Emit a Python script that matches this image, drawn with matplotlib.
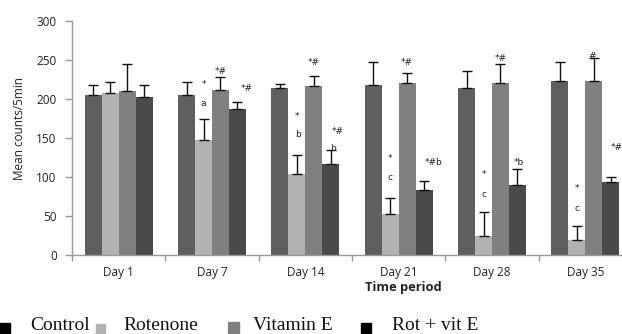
import matplotlib
matplotlib.use("Agg")
import matplotlib.pyplot as plt
import numpy as np
from matplotlib.patches import Rectangle

days = ["Day 1", "Day 7", "Day 14", "Day 21", "Day 28", "Day 35"]
series_names = ["Control", "Rotenone", "Vitamin E", "Rot + vit E"]
control = [205, 205, 214, 218, 214, 223]
rotenone = [208, 148, 104, 52, 25, 19]
vitamin_e = [210, 211, 217, 220, 221, 223]
rot_vit_e = [202, 187, 117, 83, 90, 94]
control_err = [13, 17, 5, 30, 22, 25]
rotenone_err = [14, 27, 24, 21, 30, 18]
vitamin_e_err = [35, 17, 13, 13, 24, 29]
rot_vit_e_err = [16, 9, 18, 12, 20, 6]
y_ticks = [0, 50, 100, 150, 200, 250, 300]

# annotations: (day index, series index, text, y value, x shift in bar widths)
annotations = [
    (1, 1, "*", 218, 0.0), (1, 1, "a", 194, 0.0),
    (1, 2, "*#", 235, 0.0), (1, 3, "*#", 214, 0.55),
    (2, 1, "*", 178, 0.0), (2, 1, "b", 154, 0.05),
    (2, 2, "*#", 247, 0.0), (2, 3, "*#", 158, 0.4), (2, 3, "b", 137, 0.15),
    (3, 1, "*", 124, 0.0), (3, 1, "c", 99, 0.0),
    (3, 2, "*#", 247, 0.0), (3, 3, "*#b", 119, 0.55),
    (4, 1, "*", 103, 0.0), (4, 1, "c", 78, 0.0),
    (4, 2, "*#", 252, 0.0), (4, 3, "*b", 118, 0.1),
    (5, 1, "*", 85, 0.0), (5, 1, "c", 60, 0.0),
    (5, 2, "#", 254, -0.1), (5, 3, "*#", 138, 0.35),
]

colors = ["#5f5f5f", "#b2b2b2", "#808080", "#4a4a4a"]
legend_colors = ["#000000", "#b2b2b2", "#808080", "#000000"]

W, H = 622, 334
fig = plt.figure(figsize=(W / 100, H / 100), dpi=100)
ax = fig.add_axes([72 / W, (H - 255) / H, 560 / W, 234 / H])

x = np.arange(1, len(days) + 1)
bw = 17 / 93.5
values = [control, rotenone, vitamin_e, rot_vit_e]
errs = [control_err, rotenone_err, vitamin_e_err, rot_vit_e_err]
offsets = (np.arange(4) - 1.5) * bw
for i in range(4):
    ax.bar(x + offsets[i], values[i], width=bw, color=colors[i], linewidth=0,
           yerr=[np.zeros(len(days)), errs[i]], capsize=3.5,
           error_kw=dict(ecolor="#111111", elinewidth=1.0, capthick=1.0), zorder=2)

for d, s, t, yv, dx in annotations:
    ax.text(x[d] + offsets[s] + dx * bw, yv, t, ha="center", va="center",
            fontsize=6.5, color="#222222", family="DejaVu Sans", clip_on=False)

ax.set_xlim(0.5, len(days) + 0.5)
ax.set_ylim(0, 300)
ax.set_yticks(y_ticks)
ax.set_yticklabels([str(v) for v in y_ticks], fontsize=8.5, family="Open Sans", color="#222222")
ax.set_xticks(np.arange(0.5, len(days) + 1, 1.0))
ax.set_xticklabels([])
ax.tick_params(axis="x", length=4, color="#999999", width=1)
ax.tick_params(axis="y", length=5, color="#999999", width=1, pad=6)
for i, d in enumerate(days):
    ax.text(x[i], -23, d, ha="center", va="center", fontsize=8.5,
            family="Open Sans", color="#222222", clip_on=False)
for sp in ["top", "right"]:
    ax.spines[sp].set_visible(False)
for sp in ["left", "bottom"]:
    ax.spines[sp].set_color("#999999")
    ax.spines[sp].set_linewidth(1)

fig.text(20 / W, 1 - 129 / H, "Mean counts/5min", rotation=90, ha="center", va="center",
         fontsize=8.5, family="Open Sans", color="#222222")
fig.text(403 / W, 1 - 287 / H, "Time period", ha="center", va="center",
         fontsize=9.3, family="Open Sans", weight="bold", color="#222222")

# legend
sq_x = [0, 96, 228, 361]
sq_size = [10, 9, 11, 10]
txt_x = [30, 123, 253, 392]
for i in range(4):
    s = sq_size[i]
    fig.patches.append(Rectangle((sq_x[i] / W, 1 - 333 / H), s / W, s / H,
                                 transform=fig.transFigure, color=legend_colors[i]))
    fig.text(txt_x[i] / W, 1 - 326 / H, series_names[i], ha="left", va="center",
             fontsize=14, family="Liberation Serif", color="#111111")

fig.savefig("out.png", dpi=100)
